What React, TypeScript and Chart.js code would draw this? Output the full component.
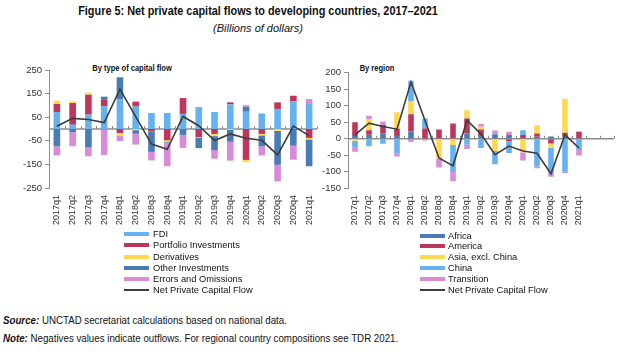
import React, { useEffect, useRef } from 'react';
import { Chart, registerables } from 'chart.js';

Chart.register(...registerables);

// ---------- data ----------
const quarters = [
  '2017q1', '2017q2', '2017q3', '2017q4',
  '2018q1', '2018q2', '2018q3', '2018q4',
  '2019q1', '2019q2', '2019q3', '2019q4',
  '2020q1', '2020q2', '2020q3', '2020q4',
  '2021q1',
];
const regionQuarters = [...quarters, '', ''];

const typeLabels = ['FDI', 'Portfolio Investments', 'Derivatives', 'Other Investments', 'Errors and Omissions'];
const regionLabels = ['Africa', 'America', 'Asia, excl. China', 'China', 'Transition'];
const netLabel = 'Net Private Capital Flow';

const fdi = [72, 18, 61, 97, 127, 95, 68, 68, 64, 93, 72, 104, 73, 66, 85, 117, 110];
const portfolio = [34, 92, 84, 29, -17, 21, -10, -48, 67, -35, -21, 9, -131, -21, 28, 24, -38];
const derivatives = [14, 7, 9, 0, -10, -5, 0, -8, 0, -3, -9, -4, -10, -6, -8, 0, -6];
const otherInvestments = [-73, -14, -78, 11, 92, -15, -87, -5, -25, -43, -59, -50, 21, -46, -144, -71, -114];
const errorsOmissions = [-39, -59, -38, -110, -24, -46, -36, -97, -55, 0, -37, -80, 7, -39, -70, -59, 17];
const netByType = [12, 45, 40, 27, 169, 52, -64, -86, 53, 14, -49, -21, -39, -48, -110, 12, -28];

const africa = [8, 12, 17, 8, 22, 0, 0, 0, 16, 8, 14, 11, 0, 6, 7, 7, 0];
const america = [42, 14, 25, 22, 52, 31, 28, 46, 45, 20, 0, -7, 11, 10, -14, 11, 21];
const asiaExChina = [-6, 34, 0, 50, 40, 0, -59, -19, 25, 8, -37, 0, -41, 25, -13, 103, 2];
const china = [-21, -23, -15, -44, 62, 30, 0, -82, -18, -28, -40, -36, 15, -84, -80, -100, -34];
const transition = [-12, 10, 10, -10, -9, -5, -28, -28, -13, 9, 11, 10, -25, -5, -8, -4, -17];
const netByRegion = [12, 47, 37, 29, 172, 55, -58, -82, 56, 14, -48, -22, -37, -44, -106, 12, -28];

// ---------- style ----------
const LIGHT_BLUE = '#66b2f0';
const CRIMSON = '#c0355a';
const YELLOW = '#ffd84f';
const STEEL = '#4a7cb4';
const ORCHID = '#d88bd6';
const LINE = '#3c3c3c';
const AXIS = '#8c8c8c';

const typeColors = [LIGHT_BLUE, CRIMSON, YELLOW, STEEL, ORCHID];
const regionColors = [STEEL, CRIMSON, YELLOW, LIGHT_BLUE, ORCHID];

const FONT = '"Liberation Sans", Arial, sans-serif';

const zeroLinePlugin = {
  id: 'zeroLine',
  afterDatasetDraw(chart: any, args: any) {
    if (args.index !== 4) return;
    const { ctx, chartArea, scales } = chart;
    const y0 = scales.y.getPixelForValue(0);
    const xs = scales.x;
    ctx.save();
    ctx.strokeStyle = AXIS;
    ctx.lineWidth = 1.5;
    ctx.beginPath();
    ctx.moveTo(chartArea.left, y0);
    ctx.lineTo(chartArea.right, y0);
    ctx.stroke();
    ctx.lineWidth = 1;
    const n = xs.getLabels().length;
    const step = (chartArea.right - chartArea.left) / n;
    for (let i = 1; i <= n; i++) {
      const x = Math.round(chartArea.left + step * i) + 0.5;
      ctx.beginPath();
      ctx.moveTo(x, y0);
      ctx.lineTo(x, y0 - 3);
      ctx.stroke();
    }
    ctx.restore();
  },
};

function makeConfig(
  labels: string[],
  series: number[][],
  names: string[],
  colors: string[],
  net: number[],
  min: number,
  max: number,
  yWidth: number,
  xHeight: number,
  padding: any,
  barPct: number,
) {
  const datasets: any[] = series.map((d, i) => ({
    type: 'bar',
    label: names[i],
    data: d,
    backgroundColor: colors[i],
    borderWidth: 0,
    stack: 'flows',
    order: 1,
    barPercentage: barPct,
    categoryPercentage: 1,
  }));
  datasets.push({
    type: 'line',
    label: netLabel,
    data: net,
    borderColor: LINE,
    borderWidth: 1.6,
    pointRadius: 0,
    tension: 0,
    fill: false,
    stack: 'net',
    order: 0,
  });
  return {
    type: 'bar',
    data: { labels, datasets },
    options: {
      responsive: false,
      animation: false,
      devicePixelRatio: 1,
      layout: { padding },
      plugins: { legend: { display: false }, tooltip: { enabled: false }, title: { display: false } },
      scales: {
        x: {
          stacked: true,
          offset: true,
          grid: { display: false, drawTicks: false },
          border: { display: false },
          ticks: {
            autoSkip: false,
            maxRotation: 90,
            minRotation: 90,
            padding: 7,
            color: '#333',
            font: { family: FONT, size: 9 },
          },
          afterFit(scale: any) {
            scale.height = xHeight;
            scale.paddingLeft = 0;
            scale.paddingRight = 0;
          },
        },
        y: {
          stacked: true,
          min,
          max,
          ticks: {
            stepSize: 50,
            padding: 3,
            color: '#333',
            font: { family: FONT, size: 9.5 },
          },
          grid: { drawOnChartArea: false, drawTicks: true, tickLength: 4, color: AXIS },
          border: { display: true, color: AXIS, width: 1 },
          afterFit(scale: any) {
            scale.width = yWidth;
            scale.paddingTop = 0;
            scale.paddingBottom = 0;
          },
        },
      },
    },
    plugins: [zeroLinePlugin],
  };
}

function ChartCanvas(props: { config: any; left: number; top: number; width: number; height: number }) {
  const ref = useRef<HTMLCanvasElement | null>(null);
  useEffect(() => {
    if (!ref.current) return;
    const chart = new Chart(ref.current, props.config);
    return () => chart.destroy();
  }, []);
  return (
    <canvas
      ref={ref}
      width={props.width}
      height={props.height}
      style={{ position: 'absolute', left: props.left, top: props.top, width: props.width, height: props.height }}
    />
  );
}

function Legend(props: { names: string[]; colors: string[]; swatchLeft: number; textLeft: number; top: number; step: number }) {
  const rows = [...props.names, netLabel];
  return (
    <>
      {rows.map((name, i) => {
        const cy = props.top + props.step * i;
        const isLine = i === rows.length - 1;
        return (
          <React.Fragment key={name}>
            <div
              style={{
                position: 'absolute',
                left: props.swatchLeft,
                top: cy - (isLine ? 0.75 : 2),
                width: 25,
                height: isLine ? 1.5 : 4,
                background: isLine ? LINE : props.colors[i],
              }}
            />
            <div
              style={{
                position: 'absolute',
                left: props.textLeft,
                top: cy - 6,
                height: 12,
                lineHeight: '12px',
                fontFamily: FONT,
                fontSize: 9.3,
                color: '#111',
                whiteSpace: 'nowrap',
              }}
            >
              {name}
            </div>
          </React.Fragment>
        );
      })}
    </>
  );
}

export default function App() {
  const typeConfig = makeConfig(
    quarters,
    [fdi, portfolio, derivatives, otherInvestments, errorsOmissions],
    typeLabels,
    typeColors,
    netByType,
    -250,
    250,
    49,
    52,
    { top: 10, right: 13, left: 0, bottom: 0 },
    0.42,
  );
  const regionConfig = makeConfig(
    regionQuarters,
    [africa, america, asiaExChina, china, transition],
    regionLabels,
    regionColors,
    netByRegion,
    -150,
    200,
    31,
    51.7,
    { top: 12.7, right: 6, left: 0, bottom: 0 },
    0.4,
  );

  const subTitle = (text: string, center: number) => (
    <div
      style={{
        position: 'absolute',
        left: center - 100,
        width: 200,
        top: 62,
        textAlign: 'center',
        fontFamily: FONT,
        fontWeight: 'bold',
        fontSize: 9.2,
        lineHeight: '12px',
        transform: 'scaleX(0.82)',
        transformOrigin: '50% 50%',
        whiteSpace: 'nowrap',
      }}
    >
      {text}
    </div>
  );

  return (
    <div
      style={{
        position: 'fixed',
        left: 0,
        top: 0,
        width: 641,
        height: 363,
        background: '#fff',
        overflow: 'hidden',
        fontFamily: FONT,
        color: '#111',
      }}
    >
      <div
        style={{
          position: 'absolute',
          left: 0,
          width: 516,
          top: 4,
          textAlign: 'center',
          fontFamily: FONT,
          fontWeight: 'bold',
          fontSize: 12.5,
          lineHeight: '14px',
          whiteSpace: 'nowrap',
          transform: 'scaleX(0.87)',
          transformOrigin: '258px 50%',
        }}
      >
        Figure 5: Net private capital flows to developing countries, 2017–2021
      </div>
      <div
        style={{
          position: 'absolute',
          left: 0,
          width: 516,
          top: 21,
          textAlign: 'center',
          fontFamily: FONT,
          fontStyle: 'italic',
          fontSize: 11,
          lineHeight: '14px',
          whiteSpace: 'nowrap',
        }}
      >
        (Billions of dollars)
      </div>
      {subTitle('By type of capital flow', 132)}
      {subTitle('By region', 377)}

      <ChartCanvas config={typeConfig} left={0} top={60} width={330} height={180} />
      <ChartCanvas config={regionConfig} left={317} top={60} width={303} height={180} />

      <Legend names={typeLabels} colors={typeColors} swatchLeft={124} textLeft={153} top={234.3} step={11.1} />
      <Legend names={regionLabels} colors={regionColors} swatchLeft={420} textLeft={448} top={235.5} step={10.9} />

      <div
        style={{
          position: 'absolute',
          left: 3,
          top: 314,
          lineHeight: '13px',
          fontFamily: FONT,
          fontSize: 10.8,
          whiteSpace: 'nowrap',
          transform: 'scaleX(0.9)',
          transformOrigin: '0 50%',
        }}
      >
        <b><i>Source:</i></b> UNCTAD secretariat calculations based on national data.
      </div>
      <div
        style={{
          position: 'absolute',
          left: 3,
          top: 332,
          lineHeight: '13px',
          fontFamily: FONT,
          fontSize: 10.8,
          whiteSpace: 'nowrap',
          transform: 'scaleX(0.9)',
          transformOrigin: '0 50%',
        }}
      >
        <b><i>Note:</i></b> Negatives values indicate outflows. For regional country compositions see TDR 2021.
      </div>
    </div>
  );
}
